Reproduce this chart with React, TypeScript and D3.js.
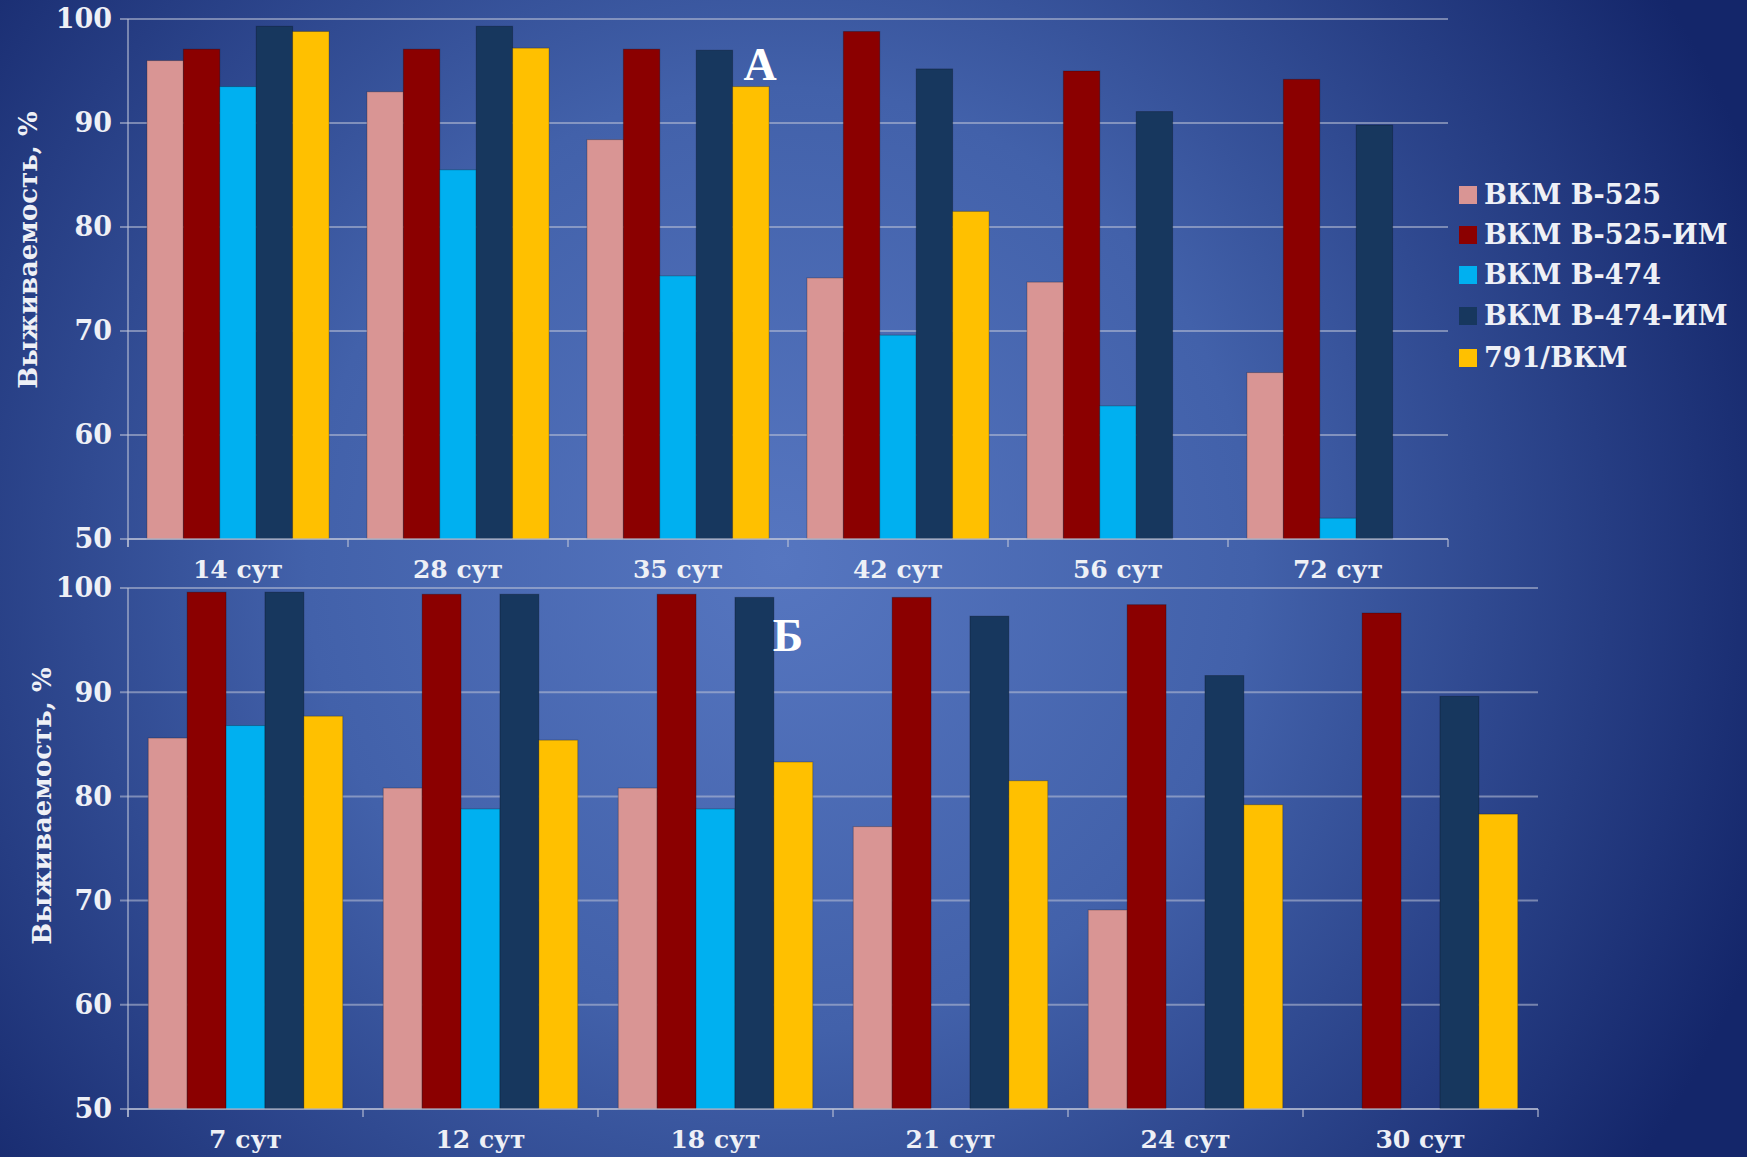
import React from 'react';
import * as d3 from 'd3';

// series names (legend) and colours
const seriesNames = ['ВКМ В-525', 'ВКМ В-525-ИМ', 'ВКМ В-474', 'ВКМ В-474-ИМ', '791/ВКМ'];
const seriesColors = ['#d99594', '#8b0000', '#00b0f0', '#17375e', '#ffc000'];

// panel A
const catsA = ['14 сут', '28 сут', '35 сут', '42 сут', '56 сут', '72 сут'];
const a525 = [96.0, 93.0, 88.4, 75.1, 74.7, 66.0];
const a525m = [97.1, 97.1, 97.1, 98.8, 95.0, 94.2];
const a474 = [93.5, 85.5, 75.3, 69.6, 62.8, 52.0];
const a474m = [99.3, 99.3, 97.0, 95.2, 91.1, 89.8];
const a791 = [98.8, 97.2, 93.5, 81.5, null, null];

// panel Б
const catsB = ['7 сут', '12 сут', '18 сут', '21 сут', '24 сут', '30 сут'];
const b525 = [85.6, 80.8, 80.8, 77.1, 69.1, null];
const b525m = [99.6, 99.4, 99.4, 99.1, 98.4, 97.6];
const b474 = [86.8, 78.8, 78.8, null, null, null];
const b474m = [99.6, 99.4, 99.1, 97.3, 91.6, 89.6];
const b791 = [87.7, 85.4, 83.3, 81.5, 79.2, 78.3];

const yTicks = [50, 60, 70, 80, 90, 100];
const yTitle = 'Выживаемость, %';

const W = 1747;
const H = 1157;
const textColor = '#eef0f6';
const font = '"DejaVu Serif", serif';

type PanelProps = {
  cats: string[];
  series: (number | null)[][];
  x0: number;
  x1: number;
  yTop: number;
  yBottom: number;
  titleX: number;
  titleY: number;
  letter: string;
  letterX: number;
  letterY: number;
};

const Panel = ({ cats, series, x0, x1, yTop, yBottom, titleX, titleY, letter, letterX, letterY }: PanelProps) => {
  const x = d3.scaleBand<string>().domain(cats).range([x0, x1]);
  const xs = d3.scaleBand<number>()
    .domain(d3.range(series.length))
    .range([0, x.bandwidth()])
    .paddingOuter(0.52);
  const y = d3.scaleLinear().domain([50, 100]).range([yBottom, yTop]);
  const grid = 'rgba(190,195,215,0.55)';

  return (
    <g>
      {/* gridlines */}
      {yTicks.map(t => (
        <line key={t} x1={x0 - 8} x2={x1} y1={y(t)} y2={y(t)} stroke={grid} strokeWidth={2} />
      ))}
      {/* bars */}
      {series.map((vals, si) =>
        vals.map((v, ci) =>
          v == null ? null : (
            <rect
              key={`${si}-${ci}`}
              x={(x(cats[ci]) as number) + (xs(si) as number)}
              y={y(v)}
              width={xs.bandwidth()}
              height={y(50) - y(v)}
              fill={seriesColors[si]}
              stroke="rgba(0,0,0,0.25)"
              strokeWidth={1}
            />
          )
        )
      )}
      {/* axes */}
      <line x1={x0} x2={x0} y1={yTop} y2={yBottom + 8} stroke={grid} strokeWidth={2} />
      <line x1={x0} x2={x1} y1={yBottom} y2={yBottom} stroke={grid} strokeWidth={2} />
      {cats.map(c => (
        <line key={c} x1={x(c) as number} x2={x(c) as number} y1={yBottom} y2={yBottom + 8} stroke={grid} strokeWidth={2} />
      ))}
      <line x1={x1} x2={x1} y1={yBottom} y2={yBottom + 8} stroke={grid} strokeWidth={2} />
      {/* y tick labels */}
      {yTicks.map(t => (
        <text key={t} x={x0 - 16} y={y(t)} dy="0.35em" textAnchor="end" fill={textColor}
          fontFamily={font} fontWeight="bold" fontSize={27}>{t}</text>
      ))}
      {/* x tick labels */}
      {cats.map(c => (
        <text key={c} x={(x(c) as number) + x.bandwidth() / 2} y={yBottom + 39} textAnchor="middle"
          fill={textColor} fontFamily={font} fontWeight="bold" fontSize={25}>{c}</text>
      ))}
      {/* y title */}
      <text transform={`translate(${titleX},${titleY}) rotate(-90)`} textAnchor="middle" dy="0.35em"
        fill={textColor} fontFamily={font} fontWeight="bold" fontSize={26}>{yTitle}</text>
      <text x={letterX} y={letterY} dy="0.35em" textAnchor="middle" fill="#ffffff"
        fontFamily='"Liberation Serif", serif' fontWeight="bold" fontSize={46}>{letter}</text>
    </g>
  );
};

export default function App() {
  return (
    <svg width={W} height={H} style={{ position: 'absolute', left: 0, top: 0 }}>
      <defs>
        <radialGradient id="bg" gradientUnits="userSpaceOnUse" cx={780} cy={560} r={1050}>
          <stop offset="0" stopColor="#5676c0" />
          <stop offset="0.45" stopColor="#4261aa" />
          <stop offset="1" stopColor="#14266a" />
        </radialGradient>
      </defs>
      <rect width={W} height={H} fill="url(#bg)" />
      <Panel cats={catsA} series={[a525, a525m, a474, a474m, a791]}
        x0={128} x1={1448} yTop={19} yBottom={539}
        titleX={28} titleY={250} letter="А" letterX={760} letterY={64} />
      <Panel cats={catsB} series={[b525, b525m, b474, b474m, b791]}
        x0={128} x1={1538} yTop={588} yBottom={1109}
        titleX={42} titleY={806} letter="Б" letterX={788} letterY={635} />
      {/* legend */}
      {seriesNames.map((n, i) => {
        const ly = [195, 235, 275, 316, 358][i];
        return (
          <g key={n}>
            <rect x={1459} y={ly - 9} width={18} height={18} fill={seriesColors[i]} />
            <text x={1484} y={ly} dy="0.35em" fill={textColor} fontFamily={font} fontWeight="bold" fontSize={27}>{n}</text>
          </g>
        );
      })}
    </svg>
  );
}
